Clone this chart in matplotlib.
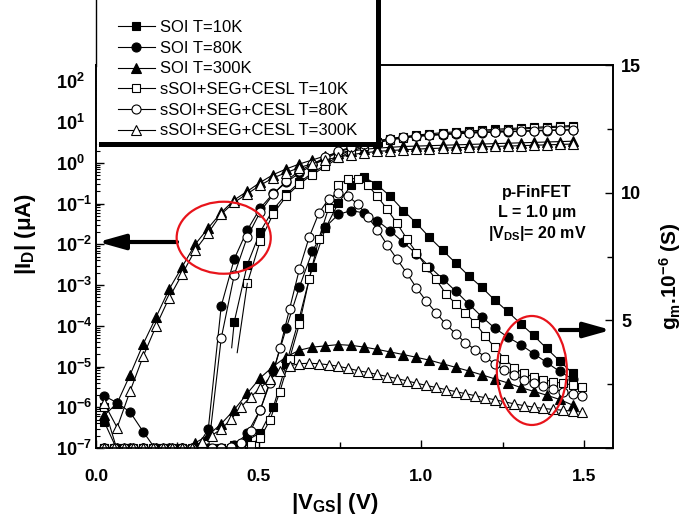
import numpy as np
import matplotlib.pyplot as plt
from matplotlib.lines import Line2D
from matplotlib.patches import Ellipse, Rectangle
from matplotlib.ticker import LogLocator, MultipleLocator, NullFormatter

plt.rcParams['font.family'] = ['Liberation Sans', 'DejaVu Sans']
plt.rcParams['mathtext.fontset'] = 'custom'
plt.rcParams['mathtext.rm'] = 'Liberation Sans'
plt.rcParams['mathtext.bf'] = 'Liberation Sans:bold'
plt.rcParams['mathtext.it'] = 'Liberation Sans:italic'

labels = ['SOI T=10K', 'SOI T=80K', 'SOI T=300K',
          'sSOI+SEG+CESL T=10K', 'sSOI+SEG+CESL T=80K', 'sSOI+SEG+CESL T=300K']
markers = ['s', 'o', '^', 's', 'o', '^']
filled = [True, True, True, False, False, False]

nan = np.nan

# |VGS| (V) where markers sit, drain current and SOI gm curves
v_grid = [0.025, 0.065, 0.105, 0.145, 0.185, 0.225, 0.265, 0.305, 0.345, 0.385,
          0.425, 0.465, 0.505, 0.545, 0.585, 0.625, 0.665, 0.705, 0.745, 0.785,
          0.825, 0.865, 0.905, 0.945, 0.985, 1.025, 1.065, 1.105, 1.145, 1.185,
          1.225, 1.265, 1.305, 1.345, 1.385, 1.425, 1.465]
# |VGS| (V) for the sSOI gm curves (denser sampling)
v_fine = [0.025, 0.055, 0.085, 0.115, 0.145, 0.175, 0.205, 0.235, 0.265, 0.295,
          0.325, 0.355, 0.385, 0.415, 0.445, 0.475, 0.505, 0.535, 0.565, 0.595,
          0.625, 0.655, 0.685, 0.715, 0.745, 0.775, 0.805, 0.835, 0.865, 0.895,
          0.925, 0.955, 0.985, 1.015, 1.045, 1.075, 1.105, 1.135, 1.165, 1.195,
          1.225, 1.255, 1.285, 1.315, 1.345, 1.375, 1.405, 1.435, 1.465, 1.495]

# log10(|ID| / uA)
id_soi_10 = [-6.35, -7.05, nan, nan, nan, nan, nan, nan, nan, nan,
             -3.9, -2.5, -1.69, -1.14, -0.77, -0.48, -0.25, -0.05, 0.17, 0.32,
             0.43, 0.52, 0.59, 0.64, 0.68, 0.71, 0.74, 0.76, 0.78, 0.80,
             0.82, 0.84, 0.855, 0.87, 0.885, 0.90, 0.915]
id_soi_80 = [-5.72, -5.89, -6.12, -6.6, -7.05, -7.05, -7.05, -7.05, -6.54, -3.51,
             -2.36, -1.65, -1.11, -0.75, -0.48, -0.25, -0.06, 0.1, 0.26, 0.37,
             0.46, 0.53, 0.585, 0.62, 0.65, 0.67, 0.69, 0.71, 0.725, 0.74,
             0.75, 0.76, 0.77, 0.78, 0.79, 0.80, 0.81]
id_soi_300 = [-6.2, -5.9, -5.2, -4.45, -3.78, -3.1, -2.55, -2.0, -1.6, -1.22,
              -0.91, -0.7, -0.48, -0.29, -0.15, -0.03, 0.07, 0.17, 0.25, 0.29,
              0.33, 0.36, 0.38, 0.40, 0.41, 0.42, 0.43, 0.44, 0.45, 0.46,
              0.47, 0.48, 0.49, 0.50, 0.51, 0.52, 0.53]
id_ssoi_10 = [-6.0, -7.05, nan, nan, nan, nan, nan, nan, nan, nan,
              nan, -2.96, -1.91, -1.25, -0.82, -0.52, -0.29, -0.09, 0.12, 0.28,
              0.40, 0.49, 0.56, 0.61, 0.65, 0.68, 0.71, 0.73, 0.75, 0.77,
              0.79, 0.81, 0.83, 0.845, 0.86, 0.875, 0.89]
id_ssoi_80 = [-7.05, -7.05, -7.05, -7.05, -7.05, -7.05, -7.05, -7.05, -7.05, -4.3,
              -2.75, -1.82, -1.2, -0.77, -0.44, -0.2, -0.03, 0.13, 0.28, 0.39,
              0.47, 0.54, 0.59, 0.63, 0.66, 0.68, 0.70, 0.72, 0.735, 0.75,
              0.76, 0.77, 0.78, 0.79, 0.80, 0.805, 0.81]
id_ssoi_300 = [-5.9, -6.5, -5.6, -4.75, -4.0, -3.31, -2.73, -2.14, -1.72, -1.26,
               -0.97, -0.76, -0.55, -0.37, -0.24, -0.12, -0.02, 0.07, 0.14, 0.2,
               0.245, 0.28, 0.30, 0.32, 0.335, 0.35, 0.36, 0.37, 0.38, 0.39,
               0.40, 0.41, 0.42, 0.43, 0.44, 0.45, 0.46]

# 10K curves start without a marker just below the first one
lead_soi_10 = ([0.417, 0.425], [-4.54, -3.9])
lead_ssoi_10 = ([0.434, 0.465], [-4.66, -2.96])

# gm (1e-6 S)
gm_soi_10 = [0, 0, 0, 0, 0, 0, 0, 0, 0, 0,
             0.1, 0.3, 0.6, 1.6, 3.3, 5.1, 7.1, 8.6, 9.6, 10.3,
             10.6, 10.3, 9.85, 9.3, 8.8, 8.25, 7.75, 7.25, 6.75, 6.3,
             5.8, 5.35, 4.87, 4.41, 3.9, 3.41, 2.92]
gm_soi_80 = [0, 0, 0, 0, 0, 0, 0, 0, 0, 0,
             0.1, 0.57, 1.5, 3.0, 4.7, 6.3, 7.7, 8.65, 9.15, 9.3,
             9.2, 8.9, 8.5, 8.05, 7.6, 7.1, 6.63, 6.15, 5.65, 5.15,
             4.7, 4.35, 4.05, 3.7, 3.35, 3.0, 2.7]
gm_soi_300 = [0, 0, 0, 0, 0, 0, 0, 0.2, 0.5, 0.95,
              1.5, 2.14, 2.75, 3.2, 3.57, 3.83, 3.95, 4.0, 4.05, 4.02,
              3.95, 3.86, 3.76, 3.66, 3.55, 3.44, 3.3, 3.16, 3.02, 2.87,
              2.71, 2.55, 2.37, 2.22, 2.07, 1.9, 1.68]
gm_ssoi_10 = [0, 0, 0, 0, 0, 0, 0, 0, 0, 0,
              0, 0, 0, 0, 0.05, 0.12, 0.4, 1.1, 2.2, 3.5,
              4.85, 6.6, 8.2, 9.4, 10.3, 10.55, 10.55, 10.3, 9.85, 9.35,
              8.8, 8.2, 7.65, 7.1, 6.6, 6.05, 5.65, 5.3, 4.9, 4.4,
              3.95, 3.5, 3.15, 2.92, 2.78, 2.68, 2.6, 2.53, 2.47, 2.4]
gm_ssoi_80 = [0, 0, 0, 0, 0, 0, 0, 0, 0, 0,
              0, 0, 0, 0.02, 0.2, 0.65, 1.5, 2.55, 3.9, 5.45,
              7.0, 8.25, 9.2, 9.75, 9.98, 9.85, 9.55, 9.05, 8.55, 7.95,
              7.4, 6.85, 6.27, 5.75, 5.3, 4.85, 4.48, 4.13, 3.85, 3.58,
              3.3, 3.05, 2.85, 2.68, 2.53, 2.42, 2.32, 2.2, 2.11, 2.02]
gm_ssoi_300 = [0, 0, 0, 0, 0, 0, 0, 0, 0, 0,
               0.25, 0.48, 0.75, 1.12, 1.6, 2.0, 2.35, 2.7, 3.0, 3.22,
               3.3, 3.32, 3.3, 3.26, 3.2, 3.12, 3.03, 2.96, 2.88, 2.8,
               2.72, 2.63, 2.54, 2.45, 2.37, 2.29, 2.21, 2.13, 2.05, 1.97,
               1.89, 1.81, 1.73, 1.66, 1.6, 1.55, 1.51, 1.48, 1.44, 1.41]

id_curves = [id_soi_10, id_soi_80, id_soi_300, id_ssoi_10, id_ssoi_80, id_ssoi_300]
gm_curves = [(v_grid, gm_soi_10), (v_grid, gm_soi_80), (v_grid, gm_soi_300),
             (v_fine, gm_ssoi_10), (v_fine, gm_ssoi_80), (v_fine, gm_ssoi_300)]

W, H = 683, 526
fig = plt.figure(figsize=(W / 100, H / 100), dpi=100)
ax = fig.add_axes([96 / W, 1 - 448 / H, 517 / W, 383 / H])
ax2 = ax.twinx()

def style(i):
    return dict(color='black', lw=0.8, marker=markers[i],
                ms=5.8 if markers[i] == 's' else 6.5,
                mfc='black' if filled[i] else 'white', mec='black', mew=0.8)

for i in range(6):
    ax.plot(v_grid, 10 ** np.array(id_curves[i]), **style(i))
    gv, gvals = gm_curves[i]
    ax2.plot(gv, gvals, **style(i))

for lv, ll in (lead_soi_10, lead_ssoi_10):
    ax.plot(lv, 10 ** np.array(ll), color='black', lw=0.8)

ax.set_yscale('log')
ax.set_xlim(0, 1.589)
ax.set_ylim(1e-7, 10 ** 2.4)
ax2.set_ylim(0, 15)

ax.set_xticks([0, 0.5, 1.0, 1.5])
ax.set_xticklabels(['0.0', '0.5', '1.0', '1.5'], fontweight='bold', fontsize=12.5)
ax.xaxis.set_minor_locator(MultipleLocator(0.25))
exps = list(range(-7, 3))
ax.set_yticks([10.0 ** e for e in exps])
ax.set_yticklabels([r'$\mathbf{10^{%d}}$' % e for e in exps], fontsize=13)
ax.yaxis.set_minor_locator(LogLocator(base=10, subs=np.arange(2, 10), numticks=30))
ax.yaxis.set_minor_formatter(NullFormatter())
for t in ax.get_yticklabels():
    t.set_horizontalalignment('left')
ax.tick_params(axis='y', which='both', direction='in', left=True, right=False, pad=29)
ax.tick_params(axis='y', which='major', length=6, width=1)
ax.tick_params(axis='y', which='minor', length=3, width=0.8)
ax.tick_params(axis='x', which='both', direction='in', top=False, pad=15)
ax.tick_params(axis='x', which='major', length=6, width=1)
ax.tick_params(axis='x', which='minor', length=4, width=1)

ax2.set_yticks([0, 5, 10, 15])
ax2.set_yticklabels(['', '5', '10', '15'], fontweight='bold', fontsize=13)
ax2.yaxis.set_minor_locator(MultipleLocator(2.5))
ax2.tick_params(axis='y', which='both', direction='in', pad=6)
ax2.tick_params(axis='y', which='major', length=6, width=1)
ax2.tick_params(axis='y', which='minor', length=4, width=1)

for a in (ax, ax2):
    for s in a.spines.values():
        s.set_linewidth(1.2)

fig.text(26 / W, 1 - 234 / H, r'|I$_{\mathbf{D}}$| ($\mathbf{\mu}$A)', rotation=90,
         ha='center', va='center', fontsize=16, fontweight='bold')
fig.text(335 / W, 1 - 504 / H, r'|V$_{\mathbf{GS}}$| (V)',
         ha='center', va='center', fontsize=16, fontweight='bold')
fig.text(670 / W, 1 - 276 / H, r'g$_{\mathbf{m}}$.10$^{\mathbf{-6}}$ (S)', rotation=90,
         ha='center', va='center', fontsize=15, fontweight='bold')

for k, line in enumerate(['p-FinFET', r'L = 1.0 $\mathbf{\mu}$m', r'|V$_{\mathbf{DS}}$|= 20 mV']):
    fig.text(537 / W, 1 - (192 + 20.5 * k) / H, line, ha='center', va='center',
             fontsize=11.5, fontweight='bold')

# red ellipses and arrows
ax2.add_patch(Ellipse((0.247, 0.549), 0.182, 0.188, transform=ax2.transAxes,
                      fill=False, ec='#e8141b', lw=1.6, zorder=10, clip_on=False))
ax2.add_patch(Ellipse((0.843, 0.2024), 0.1354, 0.2846, transform=ax2.transAxes,
                      fill=False, ec='#e8141b', lw=1.6, zorder=10, clip_on=False))
arrow = dict(arrowstyle='-|>,head_length=1.6,head_width=0.45', mutation_scale=10,
             lw=3, color='black', shrinkA=0, shrinkB=0)
ax2.annotate('', xy=(98, H - 242), xytext=(177, H - 242), xycoords='figure pixels',
             textcoords='figure pixels', arrowprops=arrow, annotation_clip=False)
ax2.annotate('', xy=(611, H - 330), xytext=(560, H - 330), xycoords='figure pixels',
             textcoords='figure pixels', arrowprops=arrow, annotation_clip=False)

# legend panel with heavy frame at the top left
fig.add_artist(Rectangle((96.8 / W, 1 - 144 / H), (378 - 96.8) / W, 144 / H + 0.05,
                         transform=fig.transFigure, fc='white', ec='none', zorder=3))
fig.add_artist(Line2D([377.5 / W, 377.5 / W], [1 - 146 / H, 1.0],
                      transform=fig.transFigure, color='black', lw=3.6, zorder=4))
fig.add_artist(Line2D([101 / W, 380 / W], [1 - 144 / H, 1 - 144 / H],
                      transform=fig.transFigure, color='black', lw=3.6, zorder=4))
fig.add_artist(Line2D([96 / W, 96 / W], [1 - 66 / H, 1.0],
                      transform=fig.transFigure, color='black', lw=1.0, zorder=4))

handles = [Line2D([], [], **style(i)) for i in range(6)]
fig.legend(handles, labels, loc='upper left', bbox_to_anchor=(118 / W, 1 - 20 / H),
           frameon=False, fontsize=12, handlelength=2.2, handletextpad=0.3,
           labelspacing=0.34, borderpad=0, borderaxespad=0)

fig.savefig('out.png', dpi=100)
